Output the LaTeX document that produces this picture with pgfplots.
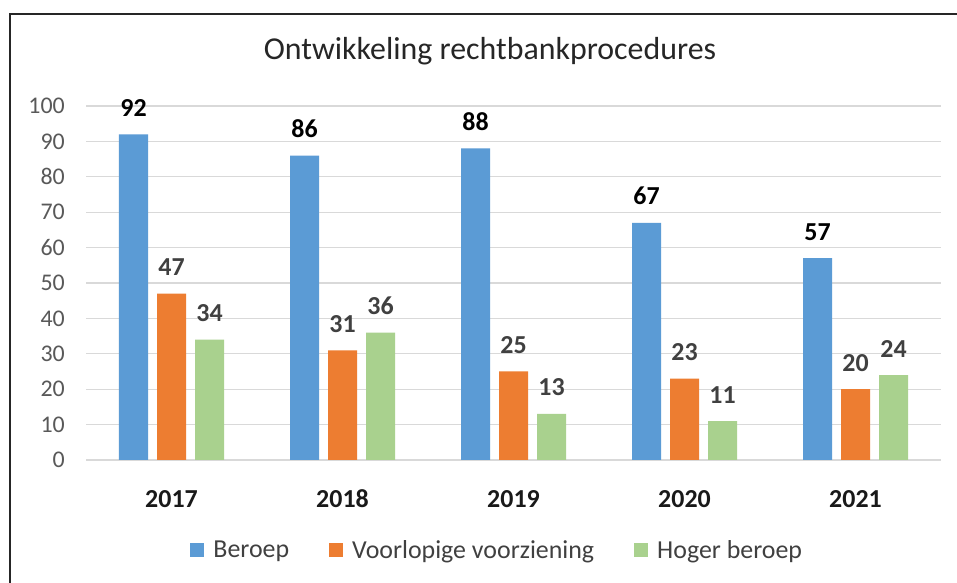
\documentclass[border=0pt]{standalone}
\usepackage{pgfplots}
\pgfplotsset{compat=1.18}
\usepackage{fontspec}
\setmainfont{Carlito}
\definecolor{cblue}{HTML}{5B9BD5}
\definecolor{corange}{HTML}{ED7D31}
\definecolor{cgreen}{HTML}{A9D18E}
\definecolor{gridc}{HTML}{D9D9D9}
\definecolor{tickc}{HTML}{595959}
\definecolor{labc}{HTML}{404040}
\begin{document}
\begin{tikzpicture}
\path[use as bounding box] (0,0) rectangle (957bp,583bp);
\fill[white] (0,0) rectangle (957bp,583bp);
\draw[line width=2bp, color=black!85] (10bp,-10bp) -- (10bp,568.5bp) -- (975bp,568.5bp);
\begin{axis}[
  at={(86bp,123bp)}, anchor=south west, scale only axis,
  width=855bp, height=354bp,
  ybar=9bp, bar width=29bp,
  xmin=-0.5, xmax=4.5, ymin=0, ymax=100,
  xtick={0,1,2,3,4}, xticklabels={2017,2018,2019,2020,2021},
  ytick={0,10,...,100},
  axis line style={draw=none}, major tick style={draw=none},
  ymajorgrids, major grid style={draw=gridc, line width=1.3bp},
  /pgf/number format/assume math mode=true,
  yticklabel style={font=\fontsize{24}{28}\selectfont, text=tickc, anchor=east, inner sep=0pt, xshift=-21bp},
  xticklabel style={font=\bfseries\fontsize{26}{30}\selectfont, text=black!90, anchor=base, inner sep=0pt, yshift=-43bp},
  title={Ontwikkeling rechtbankprocedures},
  title style={font=\fontsize{32}{38}\selectfont, text=black!85, at={(0.4725,1.1138)}, anchor=base, inner sep=0pt},
  nodes near coords,
  every node near coord/.append style={font=\bfseries\fontsize{26}{30}\selectfont, anchor=base, inner sep=0pt, yshift=18bp},
  legend columns=3,
  legend style={at={(0.481,-0.254)}, anchor=center, draw=none, fill=none,
    font=\fontsize{26}{30}\selectfont, text=labc,
    /tikz/every even column/.append style={column sep=38bp},
    /tikz/every odd column/.append style={column sep=7bp}},
  legend image code/.code={\fill[#1] (0bp,-7bp) rectangle (14bp,7bp);},
]
\addplot[fill=cblue, draw=none, every node near coord/.append style={text=black}] coordinates {(0,92) (1,86) (2,88) (3,67) (4,57)};
\addplot[fill=corange, draw=none, every node near coord/.append style={text=labc}] coordinates {(0,47) (1,31) (2,25) (3,23) (4,20)};
\addplot[fill=cgreen, draw=none, every node near coord/.append style={text=labc}] coordinates {(0,34) (1,36) (2,13) (3,11) (4,24)};
\legend{Beroep, Voorlopige voorziening, Hoger beroep}
\end{axis}
\end{tikzpicture}
\end{document}
